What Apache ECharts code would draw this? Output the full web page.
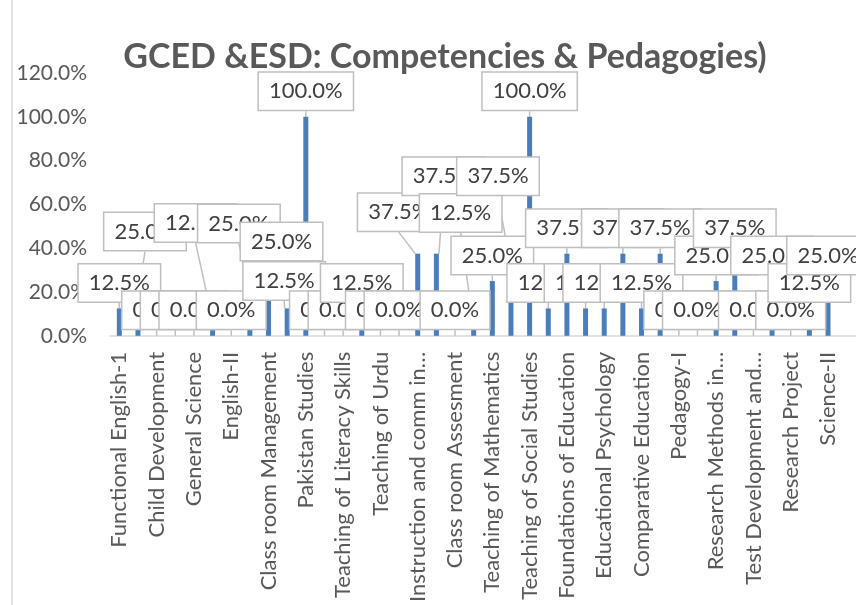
<!DOCTYPE html>
<html>
<head>
<meta charset="utf-8">
<title>GCED &ESD: Competencies & Pedagogies)</title>
<script src="https://cdn.jsdelivr.net/npm/echarts@6/dist/echarts.min.js"></script>
<style>
  html, body { margin: 0; padding: 0; background: #fff; }
  #chart { width: 856px; height: 605px; }
</style>
</head>
<body>
<div id="chart"></div>
<script>
// courses (only every other name is printed on the axis, the rest are blank)
const courses = [
  "Functional English-1", "", "Child Development", "", "General Science", "",
  "English-II", "", "Class room Management", "", "Pakistan Studies", "",
  "Teaching of Literacy Skills", "", "Teaching of Urdu", "",
  "Instruction and comm in…", "", "Class room Assesment", "",
  "Teaching of Mathematics", "", "Teaching of Social Studies", "",
  "Foundations of Education", "", "Educational Psychology", "",
  "Comparative Education", "", "Pedagogy-I", "", "Research Methods in…", "",
  "Test Development and…", "", "Research Project", "", "Science-II", ""
];

// percentage of competencies / pedagogies per course
const shares = [
  12.5, 25, 0, 0, 0, 12.5, 0, 25, 25, 12.5,
  100, 0, 0, 12.5, 0, 0, 37.5, 37.5, 0, 12.5,
  25, 37.5, 100, 12.5, 37.5, 12.5, 12.5, 37.5, 12.5, 37.5,
  0, 0, 25, 37.5, 0, 25, 0, 12.5, 25, null
];

const yTicks = [0, 20, 40, 60, 80, 100, 120];

// callouts that excel pushed away from their bar (dx, dy)
const calloutShift = {
  1: [7, -24], 5: [-17, -60], 7: [-11, -32], 8: [13, -14], 9: [-3, -2],
  16: [-19, -16], 17: [7, -52], 19: [-13, -70], 21: [-13, -52]
};

const chart = echarts.init(document.getElementById("chart"));

const option = {
  animation: false,
  textStyle: { fontFamily: "Lato" },
  title: {
    text: "GCED &ESD: Competencies & Pedagogies)",
    left: 440,
    top: 35,
    textAlign: "center",
    textStyle: { fontFamily: "Lato", fontWeight: "bold", fontSize: 34, color: "#595959" }
  },
  grid: { left: 110, top: 73, width: 754, height: 263.5, containLabel: false },
  xAxis: {
    type: "category",
    data: courses,
    axisLine: { lineStyle: { color: "#d9d9d9", width: 1.5 } },
    axisTick: { show: false },
    axisLabel: { interval: 0, rotate: 90, margin: 16, fontSize: 22, color: "#595959", fontFamily: "Lato" }
  },
  yAxis: {
    type: "value",
    min: yTicks[0],
    max: yTicks[yTicks.length - 1],
    interval: 20,
    splitLine: { show: false },
    axisLine: { show: false },
    axisTick: { show: false },
    axisLabel: {
      margin: 23,
      fontSize: 21,
      color: "#595959",
      fontFamily: "Lato",
      formatter: (v) => v.toFixed(1) + "%"
    }
  },
  series: [
    {
      type: "bar",
      data: shares,
      barWidth: 5,
      itemStyle: { color: "#4a7ebb" },
      label: {
        show: true,
        position: "top",
        distance: 7,
        formatter: (p) => p.value.toFixed(1) + "%",
        fontFamily: "Lato",
        fontSize: 22,
        lineHeight: 25,
        color: "#404040",
        backgroundColor: "#ffffff",
        borderColor: "#bfbfbf",
        borderWidth: 1.5,
        padding: [6, 10]
      },
      labelLine: { show: true, lineStyle: { color: "#bfbfbf", width: 1.5 } },
      labelLayout: (params) => {
        const s = calloutShift[params.dataIndex];
        return s ? { dx: s[0], dy: s[1] } : {};
      }
    }
  ],
  graphic: [
    {
      type: "line",
      shape: { x1: 12, y1: 0, x2: 12, y2: 605 },
      style: { stroke: "#d9d9d9", lineWidth: 1.5 }
    }
  ]
};

chart.setOption(option);
</script>
</body>
</html>
